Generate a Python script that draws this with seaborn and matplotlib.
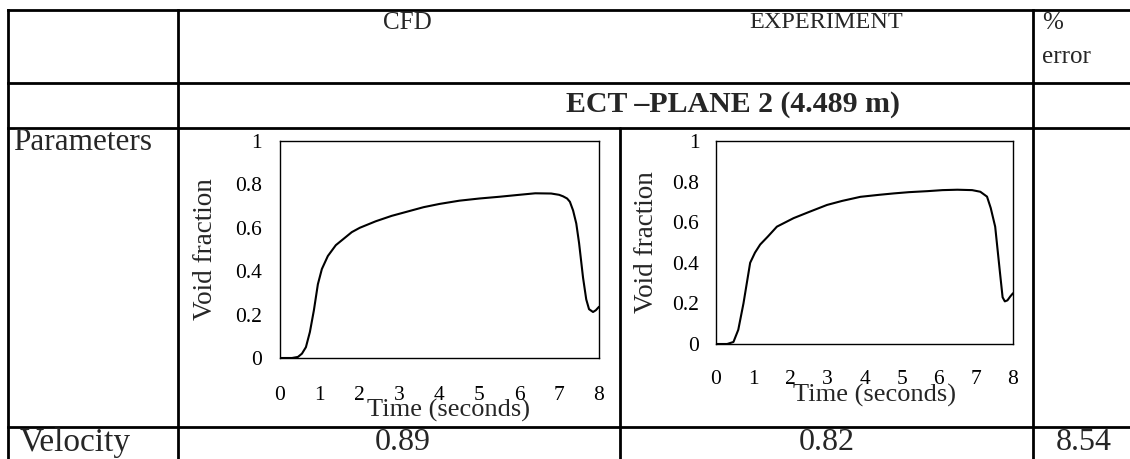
import numpy as np
import pandas as pd
import matplotlib
matplotlib.use("Agg")
import matplotlib.pyplot as plt
import seaborn as sns

# Void fraction curves
cfd_time = [0.0, 0.3, 0.45, 0.55, 0.65, 0.75, 0.85, 0.95, 1.05, 1.2, 1.4, 1.6, 1.8, 2.0,
            2.4, 2.8, 3.2, 3.6, 4.0, 4.5, 5.0, 5.5, 6.0, 6.4, 6.8, 7.0, 7.1, 7.2, 7.27,
            7.35, 7.43, 7.5, 7.6, 7.68, 7.75, 7.85, 7.92, 8.0]
cfd_void = [0.0, 0.0, 0.005, 0.02, 0.05, 0.12, 0.22, 0.34, 0.41, 0.47, 0.52, 0.55, 0.58, 0.60,
            0.63, 0.655, 0.675, 0.695, 0.71, 0.725, 0.735, 0.743, 0.752, 0.759, 0.758, 0.752, 0.745, 0.735, 0.72,
            0.68, 0.62, 0.53, 0.37, 0.27, 0.225, 0.212, 0.22, 0.236]

exp_time = [0.0, 0.3, 0.47, 0.6, 0.74, 0.83, 0.92, 1.05, 1.19, 1.4, 1.64, 2.09, 2.5, 2.99,
            3.4, 3.89, 4.4, 4.8, 5.2, 5.7, 6.1, 6.5, 6.9, 7.12, 7.3, 7.4, 7.52, 7.65, 7.72,
            7.78, 7.85, 7.93, 8.0]
exp_void = [0.0, 0.0, 0.01, 0.07, 0.2, 0.3, 0.40, 0.45, 0.49, 0.53, 0.578, 0.62, 0.65, 0.685,
            0.705, 0.725, 0.735, 0.742, 0.748, 0.753, 0.758, 0.76, 0.758, 0.75, 0.726, 0.67, 0.578, 0.35, 0.23,
            0.21, 0.215, 0.235, 0.25]

x_ticks = [0, 1, 2, 3, 4, 5, 6, 7, 8]
y_ticks = [0, 0.2, 0.4, 0.6, 0.8, 1]
y_tick_labels = ["0", "0.2", "0.4", "0.6", "0.8", "1"]

header_cols = ["CFD", "EXPERIMENT"]
velocity_vals = ["0.89", "0.82"]
velocity_err = "8.54"
plane_title = "ECT \u2013PLANE 2 (4.489 m)"

sns.set_style("white")
plt.rcParams['font.family'] = ['Liberation Serif', 'DejaVu Serif']

W, H = 1130, 459
fig = plt.figure(figsize=(W / 100, H / 100), dpi=100)

# table grid drawn in pixel coordinates
tab = fig.add_axes([0, 0, 1, 1])
tab.set_xlim(0, W)
tab.set_ylim(H, 0)
tab.axis('off')
lw = 2.0
for y in [10, 83, 128, 427]:
    tab.plot([8, W], [y, y], color='black', lw=lw, solid_capstyle='projecting')
for x in [8, 178, 1033]:
    tab.plot([x, x], [10, H], color='black', lw=lw, solid_capstyle='projecting')
tab.plot([620, 620], [128, H], color='black', lw=lw)

tab.text(407, 23, header_cols[0], ha='center', va='center', fontsize=18)
tab.text(826, 23, header_cols[1], ha='center', va='center', fontsize=17.5)
tab.text(1042, 23, "%", ha='left', va='center', fontsize=18)
tab.text(1042, 57, "error", ha='left', va='center', fontsize=18)
tab.text(733, 105, plane_title, ha='center', va='center', fontsize=21.5, fontweight='bold')
tab.text(13, 142, "Parameters", ha='left', va='center', fontsize=22.5)
tab.text(75, 443, "Velocity", ha='center', va='center', fontsize=24)
tab.text(403, 443, velocity_vals[0], ha='center', va='center', fontsize=23)
tab.text(827, 443, velocity_vals[1], ha='center', va='center', fontsize=23)
tab.text(1084, 443, velocity_err, ha='center', va='center', fontsize=23)


def px_box(left, right, top, bottom):
    return [left / W, 1 - bottom / H, (right - left) / W, (bottom - top) / H]


def draw_panel(rect, t, v, xpad, ypad, xlab, ylab_x):
    ax = fig.add_axes(rect)
    df = pd.DataFrame({"t": t, "v": v})
    sns.lineplot(data=df, x="t", y="v", color='black', lw=1.5, ax=ax)
    ax.set_xlim(0, 8)
    ax.set_ylim(0, 1)
    ax.set_xticks(x_ticks)
    ax.set_yticks(y_ticks)
    ax.set_yticklabels(y_tick_labels)
    ax.tick_params(axis='both', direction='in', length=4, width=0.8, color='#999999',
                   labelsize=15.5, labelcolor='black')
    ax.tick_params(axis='x', pad=xpad)
    ax.tick_params(axis='y', pad=ypad)
    for s in ax.spines.values():
        s.set_color('black')
        s.set_linewidth(1.0)
    ax.set_xlabel("Time (seconds)", fontsize=19)
    ax.set_ylabel("Void fraction", fontsize=19.5)
    ax.xaxis.set_label_coords(xlab[0], xlab[1])
    ax.yaxis.set_label_coords(ylab_x, 0.5)
    ax.patch.set_alpha(0)
    return ax


draw_panel(px_box(280, 599, 141, 358), cfd_time, cfd_void, 20, 13, (0.527, -0.19), -0.194)
draw_panel(px_box(716, 1013, 141, 344), exp_time, exp_void, 19, 12, (0.532, -0.195), -0.192)

fig.savefig("out.png", dpi=100, facecolor='white')
